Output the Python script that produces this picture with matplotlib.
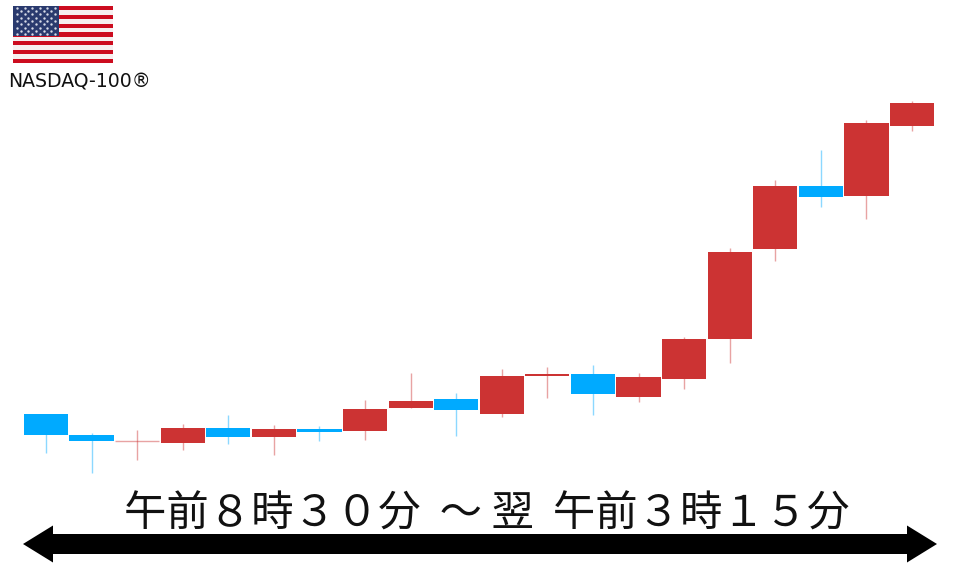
import matplotlib.pyplot as plt
from matplotlib.patches import Polygon, Rectangle

plt.switch_backend("Agg")
plt.rcParams["font.family"] = ["Noto Sans CJK JP", "DejaVu Sans"]

# Candle values (no price scale is shown)
opens = [153.0, 131.7, 125.7, 124.3, 139.3, 129.7, 138.3, 136.3, 158.7, 168.3,
         153.3, 191.3, 193.0, 170.0, 187.7, 228.0, 317.7, 380.7, 371.0, 440.7]
closes = [131.7, 126.3, 126.5, 139.3, 129.7, 138.3, 135.3, 158.3, 166.3, 156.7,
          191.0, 193.3, 173.3, 189.7, 228.0, 314.7, 380.7, 370.0, 444.3, 464.3]
highs = [153.0, 134.3, 137.0, 143.0, 152.0, 142.0, 141.0, 167.0, 194.3, 174.3,
         197.7, 199.7, 202.0, 194.3, 230.0, 318.7, 387.0, 417.0, 447.0, 466.0]
lows = [114.0, 94.0, 107.0, 117.0, 123.0, 112.0, 126.3, 127.0, 158.7, 131.0,
        149.7, 168.7, 152.0, 165.3, 177.7, 203.7, 306.3, 359.7, 347.7, 435.7]

index_label = "NASDAQ-100®"
period_label = "午前８時３０分  ～ 翌  午前３時１５分"

up_color = "#CC3333"
down_color = "#00AAFF"

fig = plt.figure(figsize=(9.6, 5.67), dpi=100)

# Candles
ax = fig.add_axes([0, 0, 1, 1])
ax.set_xlim(-1.009, 20.053)
ax.set_ylim(0, 567)
ax.axis("off")

for i in range(len(opens)):
    color = up_color if closes[i] >= opens[i] else down_color
    ax.vlines(i, lows[i], highs[i], color=color, linewidth=1, alpha=0.45, zorder=1)
    bottom = min(opens[i], closes[i])
    height = abs(closes[i] - opens[i])
    if height < 1:
        # almost flat candle, only a pale line in the reference
        ax.hlines(bottom, i - 0.48, i + 0.48, color=color, linewidth=1, alpha=0.45, zorder=2)
    else:
        ax.bar(i, height, width=0.97, bottom=bottom, color=color, zorder=2)

# Overlay in pixel units for the flag, label and arrow
over = fig.add_axes([0, 0, 1, 1])
over.set_xlim(0, 960)
over.set_ylim(567, 0)
over.axis("off")
over.patch.set_alpha(0)

# Flag
flag_x, flag_y, flag_w, flag_h = 13.3, 6.0, 100.0, 57.0
stripe_h = flag_h / 13
for s in range(13):
    stripe_color = "#CC0C1F" if s % 2 == 0 else "#F6F0F0"
    over.add_patch(Rectangle((flag_x, flag_y + s * stripe_h), flag_w, stripe_h,
                             facecolor=stripe_color, edgecolor="none"))
canton_w, canton_h = 45.5, 30.0
over.add_patch(Rectangle((flag_x, flag_y), canton_w, canton_h,
                         facecolor="#2A3A6E", edgecolor="none"))
star_x = []
star_y = []
for row in range(9):
    n_stars = 6 if row % 2 == 0 else 5
    for col in range(n_stars):
        offset = 0 if row % 2 == 0 else 0.5
        star_x.append(flag_x + canton_w * (col + offset + 0.5) / 6)
        star_y.append(flag_y + canton_h * (row + 0.5) / 9)
over.scatter(star_x, star_y, s=3, color="#D8DCE8", linewidths=0)

over.text(8, 87, index_label, fontsize=13.6, family=["DejaVu Sans"],
          color="#111111", ha="left", va="baseline")

# Period label and double arrow
over.text(486.5, 527, period_label, fontsize=30.5, color="#111111",
          ha="center", va="baseline")
arrow = [(23, 544), (53, 525.5), (53, 534), (907, 534), (907, 525.5), (937, 544),
         (907, 562.5), (907, 554), (53, 554), (53, 562.5)]
over.add_patch(Polygon(arrow, closed=True, facecolor="black", edgecolor="none"))

fig.savefig("out.png", dpi=100)
plt.close(fig)
